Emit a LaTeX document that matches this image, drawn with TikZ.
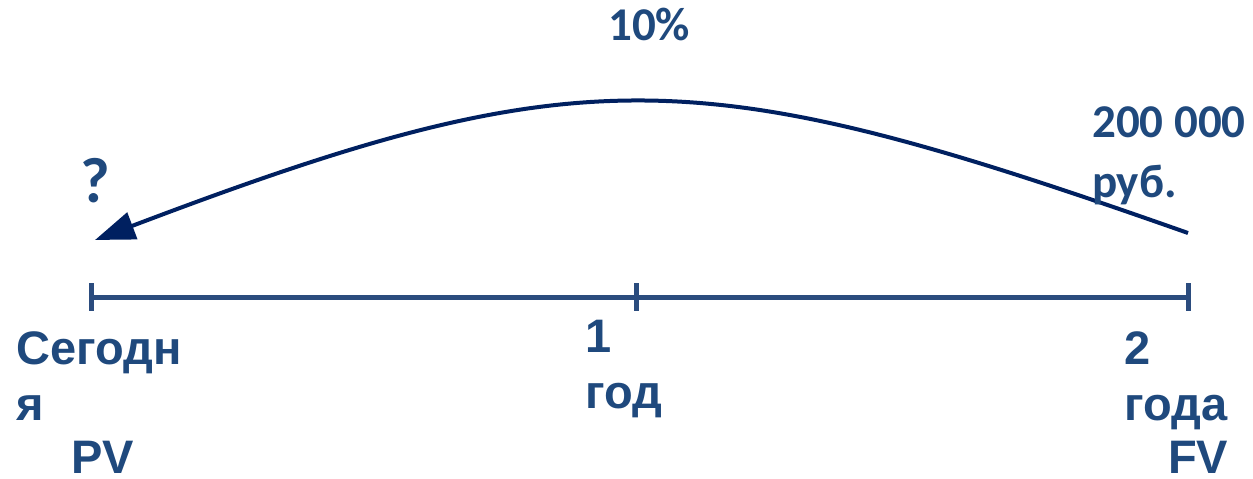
\documentclass[tikz,border=0pt]{standalone}
\usepackage{fontspec}
\usetikzlibrary{arrows.meta}
\newfontfamily\arialb{Liberation Sans}
\newfontfamily\calib{Carlito}
\definecolor{txtblue}{HTML}{1F497D}
\definecolor{axisblue}{HTML}{2B4C7E}
\definecolor{navy}{HTML}{002060}
\tikzset{
  lbl/.style={inner sep=0pt, anchor=base west, align=left, text=txtblue, font=\arialb\bfseries\fontsize{47}{56}\selectfont},
  clbl/.style={inner sep=0pt, anchor=base west, align=left, text=txtblue, font=\calib\bfseries\fontsize{47}{60}\selectfont},
  axisline/.style={draw=axisblue, line width=5pt},
  flow/.style={draw=navy, line width=4pt, -{Triangle[length=40pt,width=28pt]}}
}
\begin{document}
\begin{tikzpicture}[x=1pt,y=-1pt]
\useasboundingbox (0,0) rectangle (1253,479);
\coordinate (A) at (91,297);
\coordinate (M) at (636,297);
\coordinate (B) at (1188,297);
\draw[axisline] (A) -- (B);
\draw[axisline] (91,283) -- (91,311);
\draw[axisline] (636,283) -- (636,311);
\draw[axisline] (1188,283) -- (1188,311);
\coordinate (s) at (1188,233);
\coordinate (t) at (95,240);
\draw[flow] (s) .. controls (700,61) and (585,54) .. (t);
\node[clbl] (rate) at (608,40) {10\%};
\node[clbl, font=\calib\bfseries\fontsize{64}{70}\selectfont] (q) at (80,202) {?};
\node[clbl] (fv) at (1092,197) {200 000\\руб.};
\node[lbl] (today) at (16,420) {Сегодн\\я};
\node[lbl] (pv) at (71,473) {PV};
\node[lbl] (one) at (585,408) {1\\год};
\node[lbl] (two) at (1124,420) {2\\года};
\node[lbl] (fvl) at (1168,473) {FV};
\end{tikzpicture}
\end{document}
